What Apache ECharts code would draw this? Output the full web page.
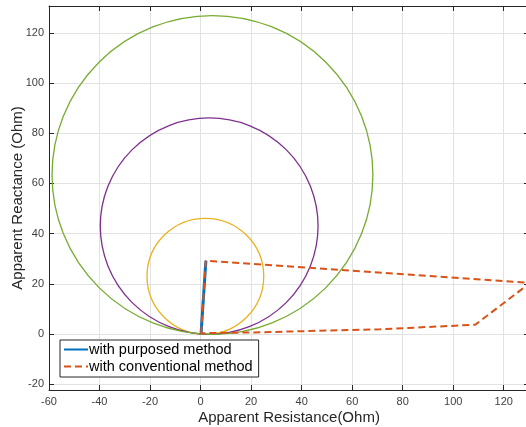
<!DOCTYPE html>
<html><head><meta charset="utf-8">
<script src="https://cdn.jsdelivr.net/npm/echarts@6/dist/echarts.min.js"></script>
<style>html,body{margin:0;padding:0;background:#fff}#c{width:526px;height:427px}</style>
</head><body><div id="c"></div>
<script>
// ---- data ----
const xTicks = [-60, -40, -20, 0, 20, 40, 60, 80, 100, 120];
const yTicks = [-20, 0, 20, 40, 60, 80, 100, 120];
// mho characteristic circles: centre (R, X) and radius, in Ohm
const circleCentersR = [1.9, 3.4, 4.7];
const circleCentersX = [23.0, 43.0, 63.4];
const circleRadii = [23.1, 43.1, 63.5];
// apparent impedance trajectories
const purposedR = [0.2, 2.1];
const purposedX = [0.3, 29.2];
const conventionalR = [0.2, 2.1, 130.5, 108.7, 71.0, 58.0, 20.0, 9.0, 0.2];
const conventionalX = [0.3, 29.2, 20.4, 3.7, 1.9, 1.6, 0.6, 0.5, 0.3];

const circleColors = ['#EDB120', '#7E2F8E', '#77AC30'];
const axisColor = '#262626';
const fontFam = '"Liberation Sans", Arial, Helvetica, sans-serif';

const zip = (a, b) => a.map((v, i) => [v, b[i]]);

const chart = echarts.init(document.getElementById('c'), null, {renderer: 'canvas'});

const circleSeries = circleRadii.map((r, i) => ({
  type: 'custom',
  name: 'circle' + i,
  xAxisIndex: 0, yAxisIndex: 0,
  clip: true,
  silent: true,
  data: [[circleCentersR[i], circleCentersX[i], r]],
  encode: {x: 0, y: 1},
  z: 2,
  renderItem: function (params, api) {
    const c = api.coord([api.value(0), api.value(1)]);
    const s = api.size([api.value(2), api.value(2)]);
    const rx = s[0], ry = s[1];
    const d = 'M' + (c[0] - rx) + ' ' + c[1] +
      ' A' + rx + ' ' + ry + ' 0 1 0 ' + (c[0] + rx) + ' ' + c[1] +
      ' A' + rx + ' ' + ry + ' 0 1 0 ' + (c[0] - rx) + ' ' + c[1] + ' Z';
    return {type: 'path', shape: {pathData: d},
      style: {fill: 'none', stroke: circleColors[i], lineWidth: 1.3}};
  }
}));

const baseX = {
  type: 'value', min: -60, max: 130,
  axisLine: {show: true, onZero: false, lineStyle: {color: axisColor, width: 1}},
  axisTick: {show: true, inside: true, length: 5, customValues: xTicks, lineStyle: {color: axisColor}},
  axisLabel: {show: true, customValues: xTicks, color: '#404040', fontSize: 11, fontFamily: fontFam, margin: 6},
  splitLine: {show: true, lineStyle: {color: '#e2e2e2', width: 1}}
};
const baseY = {
  type: 'value', min: -22.3, max: 130.7,
  axisLine: {show: true, onZero: false, lineStyle: {color: axisColor, width: 1}},
  axisTick: {show: true, inside: true, length: 5, customValues: yTicks, lineStyle: {color: axisColor}},
  axisLabel: {show: true, customValues: yTicks, color: '#404040', fontSize: 11, fontFamily: fontFam, margin: 5},
  splitLine: {show: true, lineStyle: {color: '#e2e2e2', width: 1}}
};

const option = {
  backgroundColor: '#ffffff',
  animation: false,
  grid: {left: 49, top: 6, right: -3, bottom: 37, containLabel: false, outerBoundsMode: 'none'},
  xAxis: [
    Object.assign({}, baseX, {position: 'bottom', name: 'Apparent Resistance(Ohm)', nameLocation: 'middle', nameGap: 20.5,
      nameMoveOverlap: false,
      nameTextStyle: {color: '#262626', fontSize: 15, fontFamily: fontFam}}),
    Object.assign({}, baseX, {position: 'top', axisLabel: {show: false}, splitLine: {show: false}})
  ],
  yAxis: [
    Object.assign({}, baseY, {position: 'left', name: 'Apparent Reactance (Ohm)', nameLocation: 'middle', nameGap: 23.5,
      nameMoveOverlap: false,
      nameTextStyle: {color: '#262626', fontSize: 15, fontFamily: fontFam}}),
    Object.assign({}, baseY, {position: 'right', axisLabel: {show: false}, splitLine: {show: false}})
  ],
  legend: {
    data: ['with purposed method', 'with conventional method'],
    orient: 'vertical', left: 60, top: 340,
    backgroundColor: '#ffffff', borderColor: axisColor, borderWidth: 1, borderRadius: 0,
    padding: [2, 6, 3, 3], itemGap: 2, itemWidth: 24, itemHeight: 18,
    itemStyle: {opacity: 0},
    textStyle: {color: '#000', fontSize: 14.5, fontFamily: fontFam, padding: [0, 0, 0, -4]}
  },
  series: circleSeries.concat([
    {type: 'line', name: 'with purposed method', data: zip(purposedR, purposedX), symbol: 'none',
      z: 3, lineStyle: {color: '#0072BD', width: 3}, itemStyle: {color: '#0072BD'}},
    {type: 'line', name: 'with conventional method', data: zip(conventionalR, conventionalX), symbol: 'none',
      z: 4, lineStyle: {color: '#D95319', width: 2, type: [7, 4]}, itemStyle: {color: '#D95319'}}
  ])
};
chart.setOption(option);
</script></body></html>
